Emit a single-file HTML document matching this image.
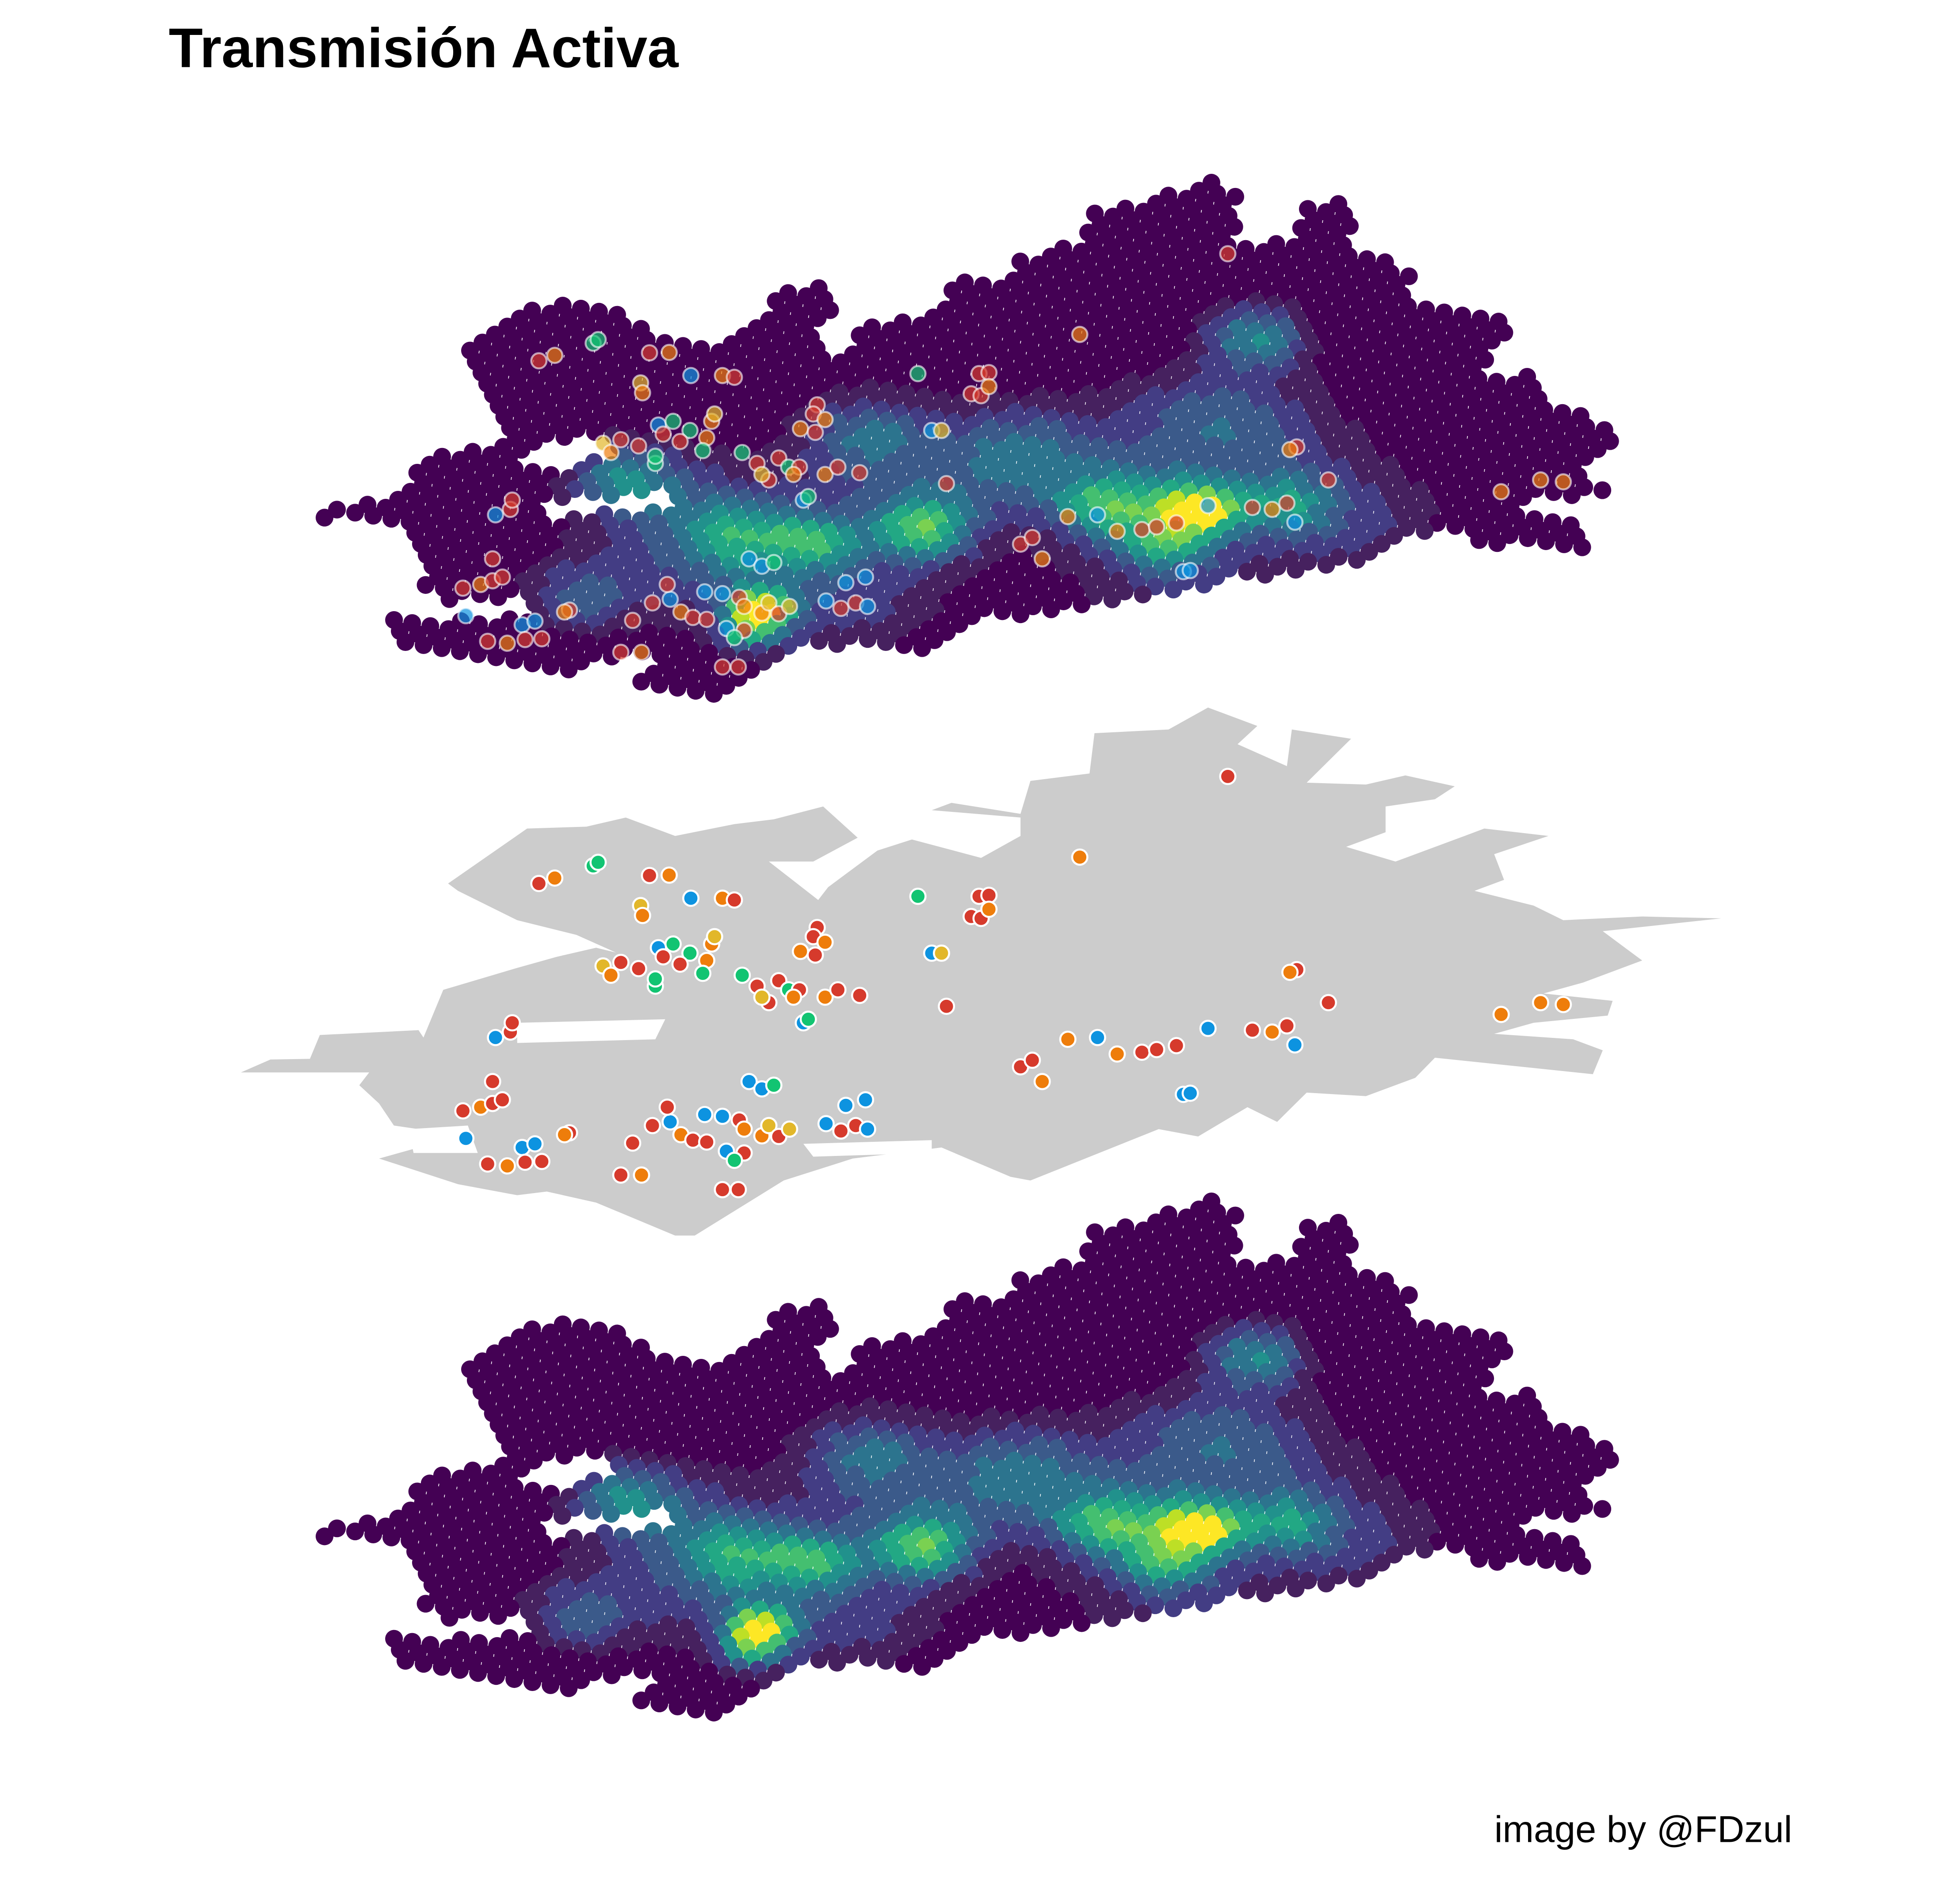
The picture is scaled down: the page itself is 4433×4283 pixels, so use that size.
<!DOCTYPE html>
<html><head><meta charset="utf-8">
<style>
html,body{margin:0;padding:0;background:#fff;}
svg{display:block;}
</style></head>
<body>
<svg id="chart" xmlns="http://www.w3.org/2000/svg" width="4433" height="4283" viewBox="0 0 1545.1 1492.9">
  <rect x="0" y="0" width="1545.1" height="1492.9" fill="#ffffff"/>
  <text x="133" y="53" font-family="Liberation Sans, Arial, sans-serif" font-weight="bold" font-size="44" fill="#000">Transmisión Activa</text>
  <g id="topLayer"></g>
  <g id="midLayer"></g>
  <g id="botLayer"></g>
  <text x="1178" y="1452" font-family="Liberation Sans, Arial, sans-serif" font-size="29.5" fill="#000">image by @FDzul</text>
</svg>
<script>
// ---- data (map / zoom coordinates) ----
const densityOutline = [[10,910],[60,890],[110,860],[110,790],[150,760],[200,730],[230,720],[165,490],[220,400],[270,330],[330,355],[350,380],[400,440],[440,470],[480,420],[520,330],[555,285],[580,300],[590,370],[560,430],[580,480],[630,400],[650,380],[700,380],[700,310],[720,270],[760,290],[780,270],[790,220],[850,180],[860,100],[900,80],[970,40],[1005,0],[1035,50],[1030,110],[1020,170],[1060,180],[1090,180],[1100,90],[1140,70],[1160,100],[1150,200],[1200,210],[1220,260],[1215,330],[1250,350],[1300,370],[1335,390],[1340,420],[1300,460],[1310,560],[1360,540],[1375,620],[1410,650],[1440,680],[1465,710],[1430,760],[1410,810],[1440,860],[1410,870],[1380,880],[1340,880],[1330,900],[1400,925],[1420,1020],[1380,1000],[1310,1000],[1260,970],[1220,970],[1200,990],[1180,1040],[1120,1070],[1040,1090],[960,1130],[880,1160],[800,1190],[740,1210],[700,1260],[690,1300],[650,1280],[600,1280],[560,1280],[520,1310],[470,1380],[420,1470],[400,1450],[340,1420],[345,1380],[380,1340],[410,1310],[380,1310],[330,1320],[290,1360],[240,1340],[180,1330],[130,1310],[80,1240],[100,1190],[150,1170],[130,1130],[120,1020],[110,960],[60,930],[10,930]];
const densityHoles = [
  [[235,745],[320,700],[330,760],[270,800],[235,790]],
  [[250,880],[400,860],[410,900],[260,935]],
  [[110,1160],[230,1150],[260,1190],[200,1215],[110,1200]]
];
const hotX = [500,490,990,960,680,560,880,1050,950,350,620,480,1000,780,1080,300, 450,650,850,1050,1150,400,600,950];
const hotY = [1180,1240,910,900,960,1000,900,440,1000,820,700,980,650,760,900,1150, 1050,850,800,750,950,900,1150,1050];
const hotW = [0.75,0.45,0.7,0.3,0.55,0.4,0.45,0.45,0.4,0.35,0.3,0.35,0.22,0.25,0.35,0.3, 0.2,0.2,0.2,0.18,0.2,0.18,0.2,0.2];
const hotS = [18,18,18,30,28,24,26,28,24,30,35,32,45,40,26,32, 60,60,60,60,55,55,55,55];

const grayOutline = [[20,995],[50,960],[90,958],[100,893],[200,880],[205,900],[225,770],[300,710],[340,680],[380,655],[400,668],[360,620],[300,580],[240,500],[230,480],[310,330],[370,325],[410,300],[460,350],[520,318],[560,305],[610,270],[645,355],[600,420],[555,420],[605,525],[615,490],[665,390],[700,360],[770,410],[810,350],[810,300],[720,280],[740,260],[810,290],[820,200],[880,180],[885,70],[960,60],[1000,0],[1050,50],[1030,100],[1080,160],[1085,60],[1145,85],[1100,205],[1160,210],[1200,185],[1250,215],[1230,250],[1180,270],[1180,340],[1140,380],[1190,420],[1260,350],[1280,330],[1345,350],[1290,400],[1300,470],[1270,500],[1330,540],[1360,580],[1440,570],[1520,575],[1400,610],[1440,690],[1380,750],[1340,780],[1410,800],[1405,840],[1330,860],[1290,890],[1370,905],[1400,935],[1390,1000],[1230,955],[1210,1010],[1160,1060],[1100,1050],[1070,1130],[1040,1090],[990,1170],[950,1150],[820,1290],[800,1280],[730,1200],[640,1230],[570,1290],[540,1340],[480,1440],[460,1440],[380,1350],[330,1320],[300,1330],[240,1300],[160,1230],[200,1200],[200,1150],[175,1140],[160,1080],[140,1030],[150,995]];
const grayHoles = [
  [[300,860],[450,850],[440,905],[300,915]],
  [[190,1150],[250,1140],[260,1215],[195,1215]],
  [[590,1190],[720,1180],[720,1215],[600,1225]]
];

const caseX = [322,338,377,382,434,454,425,427,476,508,520,706,768,778,760,770,778,604,600,612,587,602,443,458,475,448,465,497,500,492,488,387,405,423,395,440,440,528,543,565,575,586,555,548,580,612,625,647,720,730,735,590,595,1090,1083,1122,1297,1337,1360,1000,1045,1065,1080,1088,858,888,908,933,948,968,810,822,832,975,982,535,548,560,633,653,613,628,643,655,275,245,263,275,285,293,278,295,248,305,318,270,290,308,325,353,348,417,437,455,452,466,478,492,490,508,525,530,548,555,565,576,512,530,520,405,426,508,524,1020,870];
const caseY = [480,465,432,422,458,457,540,567,520,520,525,515,515,512,570,575,550,600,625,640,665,675,655,645,670,680,700,645,625,690,725,705,695,712,730,760,740,730,760,745,770,770,805,790,790,790,770,785,670,670,815,860,850,715,722,805,837,805,810,875,880,885,868,920,905,900,945,940,933,922,980,962,1020,1055,1052,1020,1040,1030,1085,1070,1135,1155,1140,1150,1020,1100,1090,1080,1070,885,900,860,1175,1200,1190,1245,1250,1240,1238,1160,1165,1188,1140,1130,1090,1165,1180,1185,1110,1115,1125,1150,1168,1140,1170,1150,1210,1215,1235,1275,1275,1315,1315,188,408];
const caseCat = ['r','o','g','g','r','o','y','o','b','o','r','g','r','r','r','r','o','r','r','o','o','r','b','g','g','r','r','o','y','o','g','y','r','r','o','g','g','g','r','r','g','r','r','y','o','o','r','r','b','y','r','b','g','r','o','r','o','o','o','b','r','o','r','b','o','b','o','r','r','r','r','r','o','b','b','b','b','g','b','b','b','r','r','b','r','r','o','r','r','r','b','r','b','b','b','r','o','r','r','r','o','r','r','b','r','o','r','r','b','b','r','o','o','y','r','y','b','r','g','r','o','r','r','r','o'];
const catColor = {r:'#d63a2c',o:'#ee7d0b',b:'#0d93e0',g:'#12c472',y:'#e2b72a'};

// ---- scales ----
const NS='http://www.w3.org/2000/svg';
function T4(p){return [244 + p[0]*0.711, 139.4 + p[1]*0.289];}
function T3(p){return [174.3 + p[0]*0.778, 557.7 + p[1]*0.289];}
const TOP_TO_MID = 412, TOP_TO_BOT = 803;
const viridis = ['#440154','#46215f','#433d84','#3b5a8a','#2c748e','#21918c','#22a884','#44bf70','#7ad151','#bddf26','#fde725'];

function inPoly(x,y,poly){
  let c=false;
  for(let i=0,j=poly.length-1;i<poly.length;j=i++){
    const xi=poly[i][0],yi=poly[i][1],xj=poly[j][0],yj=poly[j][1];
    if(((yi>y)!==(yj>y)) && (x < (xj-xi)*(y-yi)/(yj-yi)+xi)) c=!c;
  }
  return c;
}
function ptsStr(poly){return poly.map(p=>p[0].toFixed(1)+','+p[1].toFixed(1)).join(' ');}

const outlineD = densityOutline.map(T4);
const holesD = densityHoles.map(h=>h.map(T4));
const hotD = hotX.map((x,i)=>T4([x,hotY[i]]));

function intensity(x,y){
  let s=0;
  for(let k=0;k<hotD.length;k++){
    const dx=x-hotD[k][0], dy=(y-hotD[k][1])*1.6;
    s += hotW[k]*Math.exp(-(dx*dx+dy*dy)/(2*hotS[k]*hotS[k]));
  }
  return Math.min(1,s);
}

// ---- density dots ----
const topG=document.getElementById('topLayer');
const botG=document.getElementById('botLayer');
const ax=14.3, ay=2.4, bx=4.5, by=8.7;
const dots=[];
for(let j=-60;j<80;j++){
  for(let i=-80;i<120;i++){
    const x=150+i*ax+j*bx, y=-150+i*ay+j*by;
    if(x<200||x>1350||y<120||y>600) continue;
    if(!inPoly(x,y,outlineD)) continue;
    let hole=false;
    for(const h of holesD){ if(inPoly(x,y,h)) {hole=true;break;} }
    if(hole) continue;
    dots.push([x,y]);
  }
}
dots.sort((p,q)=>p[1]-q[1]);
for(const [x,y] of dots){
  const v=intensity(x,y);
  const col=viridis[Math.min(10,Math.floor(v*10.99))];
  for(const [g,off] of [[topG,0],[botG,TOP_TO_BOT]]){
    const c=document.createElementNS(NS,'circle');
    c.setAttribute('cx',x.toFixed(1));
    c.setAttribute('cy',(y+off).toFixed(1));
    c.setAttribute('r','7');
    c.setAttribute('fill',col);
    
    
    g.appendChild(c);
  }
}

// ---- gray map ----
const midG=document.getElementById('midLayer');
const gp=document.createElementNS(NS,'polygon');
gp.setAttribute('points',ptsStr(grayOutline.map(T3)));
gp.setAttribute('fill','#cccccc');


midG.appendChild(gp);
for(const h of grayHoles){
  const hp=document.createElementNS(NS,'polygon');
  hp.setAttribute('points',ptsStr(h.map(T3)));
  hp.setAttribute('fill','#ffffff');
  
  
  midG.appendChild(hp);
}

// ---- case points ----
for(let k=0;k<caseX.length;k++){
  const p=T3([caseX[k],caseY[k]]);
  const col=catColor[caseCat[k]];
  const c=document.createElementNS(NS,'circle');
  c.setAttribute('cx',p[0].toFixed(1));
  c.setAttribute('cy',p[1].toFixed(1));
  c.setAttribute('r','6');
  c.setAttribute('fill',col);
  c.setAttribute('stroke','#ffffff');
  c.setAttribute('stroke-width','1.6');
  
  
  midG.appendChild(c);
  const t=document.createElementNS(NS,'circle');
  t.setAttribute('cx',p[0].toFixed(1));
  t.setAttribute('cy',(p[1]-TOP_TO_MID).toFixed(1));
  t.setAttribute('r','6');
  t.setAttribute('fill',col);
  t.setAttribute('fill-opacity','0.7');
  t.setAttribute('stroke','#ffffff');
  t.setAttribute('stroke-opacity','0.6');
  t.setAttribute('stroke-width','1.6');
  
  
  topG.appendChild(t);
}
</script>
</body></html>
